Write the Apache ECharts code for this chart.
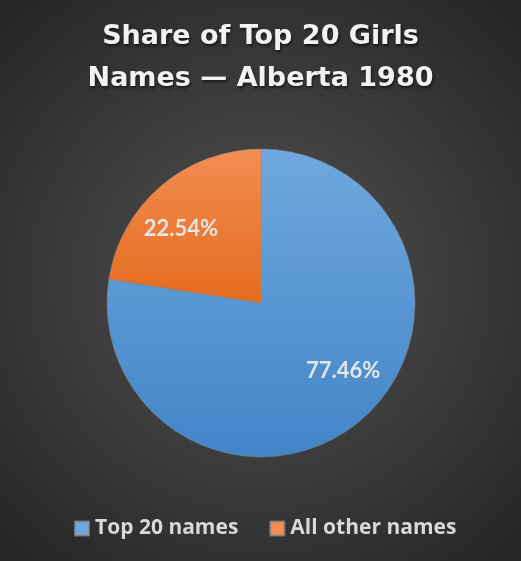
<!DOCTYPE html>
<html>
<head>
<meta charset="utf-8">
<script src="https://cdn.jsdelivr.net/npm/echarts@6/dist/echarts.min.js"></script>
<style>
html,body{margin:0;padding:0;background:#2b2b2b;}
#c{width:521px;height:561px;}
</style>
</head>
<body>
<div id="c"></div>
<script>
var titleLines = ['Share of Top 20 Girls', 'Names \u2014 Alberta 1980'];
var categories = ['Top 20 names', 'All other names'];
var values = [77.46, 22.54];

var chart = echarts.init(document.getElementById('c'), null, {renderer: 'canvas'});

var blueGrad = {type: 'linear', x: 0, y: 150, x2: 0, y2: 458, global: true,
  colorStops: [{offset: 0, color: '#6ea8de'}, {offset: 1, color: '#4285c7'}]};
var orangeGrad = {type: 'linear', x: 0, y: 150, x2: 0, y2: 458, global: true,
  colorStops: [{offset: 0, color: '#f38d53'}, {offset: 0.5, color: '#e56b1e'}, {offset: 1, color: '#d65e10'}]};
var labelShift = [[30, 7], [-28, -13]];

chart.setOption({
  backgroundColor: {
    type: 'radial', x: 0.5, y: 0.5, r: 0.72,
    colorStops: [{offset: 0, color: '#525252'}, {offset: 1, color: '#252525'}]
  },
  title: {
    text: titleLines.join('\n'),
    left: 'center',
    top: 11,
    textStyle: {
      fontFamily: 'DejaVu Sans', fontWeight: 'bold', fontSize: 27, color: '#f2f2f2',
      lineHeight: 42,
      textShadowColor: 'rgba(0,0,0,0.6)', textShadowBlur: 3, textShadowOffsetX: 1, textShadowOffsetY: 2
    }
  },
  legend: {
    bottom: 17,
    left: 69,
    icon: 'rect',
    itemWidth: 14,
    itemHeight: 14,
    itemGap: 31,
    textStyle: {fontFamily: 'Open Sans', fontWeight: 'bold', fontSize: 21, color: '#d9d9d9', padding: [0, 0, 0, 1]},
    data: categories
  },
  series: [{
    type: 'pie',
    center: [261, 303],
    radius: 154,
    startAngle: 90,
    clockwise: true,
    silent: true,
    animation: false,
    itemStyle: {borderColor: 'rgba(140,140,140,0.7)', borderWidth: 0.6},
    label: {
      show: true,
      position: 'inside',
      formatter: function (p) { return p.value.toFixed(2) + '%'; },
      fontFamily: 'Lato', fontWeight: 'bold', fontSize: 22, color: '#e6e6e6'
    },
    labelLine: {show: false},
    labelLayout: function (p) {
      var s = labelShift[p.dataIndex];
      return {dx: s[0], dy: s[1]};
    },
    data: categories.map(function (c, i) {
      return {name: c, value: values[i], itemStyle: {color: i === 0 ? blueGrad : orangeGrad}};
    })
  }],
  color: ['#5b9bd5', '#ed7d31']
});
</script>
</body>
</html>
